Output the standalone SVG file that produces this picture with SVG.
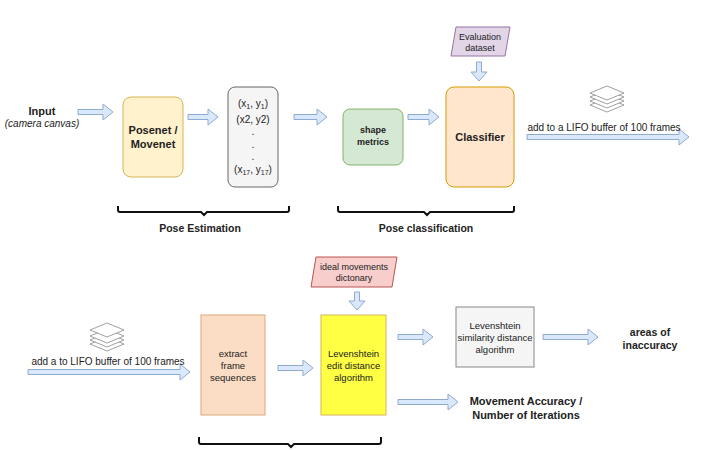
<svg xmlns="http://www.w3.org/2000/svg" width="720" height="450" viewBox="0 0 720 450">
<style>
text{font-family:"Liberation Sans",Arial,sans-serif;fill:#222}
.b{font-weight:bold}
.s{font-size:10px}
.m{font-size:11px}
.ar{fill:#dae8fc;stroke:#8fa9cf;stroke-width:1}
.br{fill:none;stroke:#111;stroke-width:2}
.st{fill:#fff;stroke:#888;stroke-width:0.8}
</style>
<rect width="720" height="450" fill="#fff"/>
<g id="connectors">
<path class="ar" d="M78,109.5H103V104L113,112L103,120V114.5H78Z"/>
<path class="ar" d="M188,114.5H208V109L218,117L208,125V119.5H188Z"/>
<path class="ar" d="M294,114.5H317V109L327,117L317,125V119.5H294Z"/>
<path class="ar" d="M408,114.5H429V109L439,117L429,125V119.5H408Z"/>
<path class="ar" d="M476.5,62V72H471L479,81L487,72H481.5V62Z"/>
<path class="ar" d="M527,134.5H679V129L689,137L679,145V139.5H527Z"/>
<path class="ar" d="M28,369.5H180V364L190,372L180,380V374.5H28Z"/>
<path class="ar" d="M278,365.5H303V360L313,368L303,376V370.5H278Z"/>
<path class="ar" d="M354.5,292V301H349L357,310L365,301H359.5V292Z"/>
<path class="ar" d="M398,334.5H423V329L433,337L423,345V339.5H398Z"/>
<path class="ar" d="M543,334.5H588V329L598,337L588,345V339.5H543Z"/>
<path class="ar" d="M398,399.5H448V394L458,402L448,410V404.5H398Z"/>
</g>
<g id="input"><text x="42" y="115" text-anchor="middle" class="b m">Input</text><text x="42" y="127" text-anchor="middle" class="s" font-style="italic" fill="#333">(camera canvas)</text></g>
<g id="posenet"><rect x="123" y="97" width="60" height="80" rx="8" fill="#fff2cc" stroke="#d6b656"/><text x="153" y="134" text-anchor="middle" class="b m">Posenet /</text><text x="153" y="148" text-anchor="middle" class="b m">Movenet</text></g>
<g id="keypoints"><rect x="228" y="87" width="50" height="100" rx="7" fill="#f5f5f5" stroke="#666"/>
<text x="253" y="107" text-anchor="middle" class="s" fill="#444">(x<tspan font-size="7" dy="2">1</tspan><tspan dy="-2">, y</tspan><tspan font-size="7" dy="2">1</tspan><tspan dy="-2">)</tspan></text>
<text x="253" y="123" text-anchor="middle" class="s" fill="#444">(x2, y2)</text>
<text x="253" y="135" text-anchor="middle" class="s" fill="#444">.</text><text x="253" y="148" text-anchor="middle" class="s" fill="#444">.</text><text x="253" y="160" text-anchor="middle" class="s" fill="#444">.</text>
<text x="253" y="173" text-anchor="middle" class="s" fill="#444">(x<tspan font-size="7" dy="2">17</tspan><tspan dy="-2">, y</tspan><tspan font-size="7" dy="2">17</tspan><tspan dy="-2">)</tspan></text></g>
<g id="shape"><rect x="343" y="109" width="60" height="56" rx="7" fill="#d5e8d4" stroke="#82b366"/><text x="373" y="133" text-anchor="middle" class="b" font-size="9">shape</text><text x="373" y="145" text-anchor="middle" class="b" font-size="9">metrics</text></g>
<g id="classifier"><rect x="446" y="87" width="68" height="100" rx="8" fill="#ffe6cc" stroke="#d79b00"/><text x="480" y="141" text-anchor="middle" class="b m">Classifier</text></g>
<g id="evaldata"><path d="M456,27H510L505,56H451Z" fill="#e1d5e7" stroke="#9673a6" stroke-linejoin="round"/><text x="480" y="40" text-anchor="middle" font-size="9">Evaluation</text><text x="480" y="51" text-anchor="middle" font-size="9">dataset</text></g>
<g id="stack1"><path class="st" d="M607,98l-17,7 17,7 17,-7z"/><path class="st" d="M607,94l-17,7 17,7 17,-7z"/><path class="st" d="M607,90l-17,7 17,7 17,-7z"/><path class="st" d="M607,86l-17,7 17,7 17,-7z"/></g>
<text x="604" y="131" text-anchor="middle" class="s" fill="#333">add to a LIFO buffer of 100 frames</text>
<g id="brace1"><path class="br" d="M118,206v4q0,2 2,2h81l3,3 3,-3h80q2,0 2,-2v-4"/><text x="200" y="232" text-anchor="middle" class="b" font-size="10.5">Pose Estimation</text></g>
<g id="brace2"><path class="br" d="M338,206v4q0,2 2,2h84l3,3 3,-3h82q2,0 2,-2v-4"/><text x="426" y="232" text-anchor="middle" class="b" font-size="10.5">Pose classification</text></g>
<g id="stack2"><path class="st" d="M107,337l-17,7 17,7 17,-7z"/><path class="st" d="M107,333l-17,7 17,7 17,-7z"/><path class="st" d="M107,329l-17,7 17,7 17,-7z"/><path class="st" d="M107,323l-17,7 17,7 17,-7z"/></g>
<text x="108" y="365" text-anchor="middle" class="s" fill="#333">add a to LIFO buffer of 100 frames</text>
<g id="extract"><rect x="201" y="315" width="64" height="100" fill="#fbdcc4" stroke="#d9a878"/><text x="233" y="357" text-anchor="middle" font-size="9.5" fill="#444">extract</text><text x="233" y="369" text-anchor="middle" font-size="9.5" fill="#444">frame</text><text x="233" y="381" text-anchor="middle" font-size="9.5" fill="#444">sequences</text></g>
<g id="levedit"><rect x="321" y="315" width="65" height="100" fill="#ffff44" stroke="#d6b656"/><text x="353.5" y="357" text-anchor="middle" font-size="9.5" fill="#444">Levenshtein</text><text x="353.5" y="369" text-anchor="middle" font-size="9.5" fill="#444">edit distance</text><text x="353.5" y="381" text-anchor="middle" font-size="9.5" fill="#444">algorithm</text></g>
<g id="ideal"><path d="M316,257H397L392,287H311Z" fill="#f8cecc" stroke="#b85450" stroke-linejoin="round"/><text x="354" y="270" text-anchor="middle" font-size="9">ideal movements</text><text x="354" y="281" text-anchor="middle" font-size="9">dictonary</text></g>
<g id="levsim"><rect x="456" y="307" width="78" height="60" fill="#f5f5f5" stroke="#888"/><text x="495" y="329" text-anchor="middle" font-size="9.5" fill="#555">Levenshtein</text><text x="495" y="341" text-anchor="middle" font-size="9.5" fill="#555">similarity distance</text><text x="495" y="353" text-anchor="middle" font-size="9.5" fill="#555">algorithm</text></g>
<g id="areas"><text x="650" y="336" text-anchor="middle" class="b" font-size="10.5">areas of</text><text x="650" y="349" text-anchor="middle" class="b" font-size="10.5">inaccuracy</text></g>
<g id="accuracy"><text x="526" y="405" text-anchor="middle" class="b m">Movement Accuracy /</text><text x="526" y="419" text-anchor="middle" class="b m">Number of Iterations</text></g>
<g id="brace3"><path class="br" d="M199,437v5q0,2 2,2h87l3,3 3,-3h85q2,0 2,-2v-5"/></g>
</svg>
